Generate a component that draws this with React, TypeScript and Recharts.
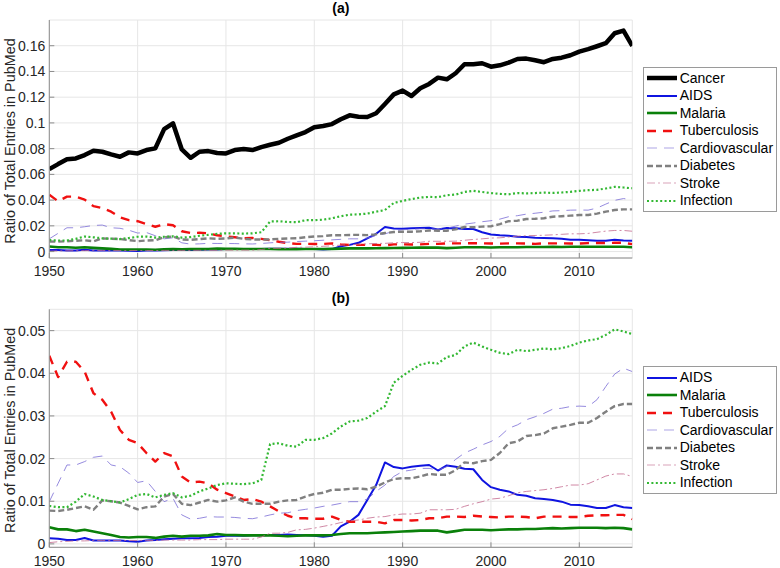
import { CartesianGrid, Legend, Line, LineChart, XAxis, YAxis } from "recharts";

const years = [
  1950, 1951, 1952, 1953, 1954, 1955, 1956, 1957, 1958, 1959,
  1960, 1961, 1962, 1963, 1964, 1965, 1966, 1967, 1968, 1969,
  1970, 1971, 1972, 1973, 1974, 1975, 1976, 1977, 1978, 1979,
  1980, 1981, 1982, 1983, 1984, 1985, 1986, 1987, 1988, 1989,
  1990, 1991, 1992, 1993, 1994, 1995, 1996, 1997, 1998, 1999,
  2000, 2001, 2002, 2003, 2004, 2005, 2006, 2007, 2008, 2009,
  2010, 2011, 2012, 2013, 2014, 2015, 2016,
];

const cancer = [
  0.0641, 0.068, 0.0717, 0.0724, 0.075, 0.0784, 0.0776, 0.0755, 0.0737, 0.0771,
  0.0763, 0.0789, 0.0802, 0.0952, 0.0997, 0.0794, 0.0729, 0.0776, 0.0781, 0.0766,
  0.0763, 0.0789, 0.0797, 0.0789, 0.0812, 0.083, 0.0846, 0.0877, 0.0903, 0.0929,
  0.0966, 0.0976, 0.0991, 0.1028, 0.1059, 0.1048, 0.1046, 0.1075, 0.1147, 0.1222,
  0.1251, 0.1209, 0.1269, 0.1303, 0.1352, 0.1339, 0.1386, 0.1456, 0.1456, 0.1464,
  0.1437, 0.1448, 0.1469, 0.1497, 0.15, 0.1487, 0.1472, 0.1497, 0.1507, 0.1526,
  0.1554, 0.1573, 0.1596, 0.162, 0.1697, 0.1718, 0.1598,
];

const aids = [
  0.0013, 0.0012, 0.0009, 0.0009, 0.0014, 0.0008, 0.0008, 0.0008, 0.0008, 0.0006,
  0.0005, 0.0008, 0.0009, 0.0011, 0.0012, 0.0013, 0.0013, 0.0014, 0.0016, 0.0017,
  0.0019, 0.0019, 0.0019, 0.002, 0.002, 0.0021, 0.0021, 0.0022, 0.0021, 0.002,
  0.0019, 0.0017, 0.0019, 0.0041, 0.0052, 0.0068, 0.0103, 0.0138, 0.0191, 0.018,
  0.0177, 0.0181, 0.0183, 0.0185, 0.0172, 0.0184, 0.0181, 0.0176, 0.0175, 0.015,
  0.0133, 0.0127, 0.0123, 0.0115, 0.0113, 0.0107, 0.0105, 0.0103, 0.0099, 0.0092,
  0.0091, 0.0088, 0.0084, 0.0084, 0.0091, 0.0086, 0.0084,
];

const malaria = [
  0.0039, 0.0034, 0.0034, 0.003, 0.0033, 0.0029, 0.0025, 0.0021, 0.0016, 0.0015,
  0.0016, 0.0016, 0.0014, 0.0017, 0.0019, 0.0017, 0.0019, 0.0019, 0.002, 0.0023,
  0.0021, 0.0021, 0.002, 0.002, 0.002, 0.002, 0.0019, 0.0018, 0.0019, 0.002,
  0.002, 0.002, 0.0021, 0.0023, 0.0025, 0.0025, 0.0025, 0.0026, 0.0027, 0.0028,
  0.0029, 0.003, 0.0031, 0.0031, 0.0031, 0.0027, 0.003, 0.0033, 0.0033, 0.0033,
  0.0032, 0.0033, 0.0034, 0.0034, 0.0035, 0.0035, 0.0036, 0.0037, 0.0036, 0.0037,
  0.0038, 0.0038, 0.0038, 0.0037, 0.0038, 0.0037, 0.0034,
];

const tuberculosis = [
  0.0441, 0.0391, 0.0427, 0.0427, 0.0404, 0.0353, 0.0338, 0.031, 0.0267, 0.0244,
  0.0236, 0.0213, 0.0193, 0.0213, 0.0205, 0.0158, 0.0144, 0.0146, 0.0142, 0.0127,
  0.0119, 0.0111, 0.0103, 0.0105, 0.0099, 0.0088, 0.0076, 0.0066, 0.006, 0.006,
  0.0059, 0.0059, 0.0064, 0.0056, 0.0052, 0.0052, 0.0052, 0.0052, 0.0048, 0.0056,
  0.0056, 0.0055, 0.0056, 0.006, 0.006, 0.0064, 0.0064, 0.0063, 0.0066, 0.0064,
  0.0063, 0.0062, 0.0064, 0.0064, 0.0063, 0.006, 0.0064, 0.0064, 0.0064, 0.0063,
  0.0063, 0.0066, 0.0067, 0.0067, 0.0068, 0.0068, 0.0058,
];

const cardiovascular = [
  0.0099, 0.0142, 0.0185, 0.0185, 0.0193, 0.0203, 0.0206, 0.0185, 0.0181, 0.0166,
  0.0144, 0.0148, 0.0123, 0.0099, 0.0107, 0.0068, 0.0058, 0.006, 0.0064, 0.0063,
  0.0063, 0.0062, 0.006, 0.0059, 0.0063, 0.0068, 0.0072, 0.0073, 0.0078, 0.0081,
  0.0084, 0.0088, 0.0091, 0.0095, 0.0099, 0.0099, 0.0105, 0.0123, 0.0138, 0.0158,
  0.017, 0.0173, 0.0177, 0.0177, 0.0173, 0.0181, 0.0198, 0.0213, 0.0222, 0.0232,
  0.024, 0.0252, 0.0271, 0.0279, 0.0291, 0.0298, 0.0306, 0.0316, 0.0318, 0.0322,
  0.0323, 0.0322, 0.0338, 0.0369, 0.0398, 0.0412, 0.0404,
];

const diabetes = [
  0.0078, 0.0077, 0.008, 0.0084, 0.0088, 0.008, 0.0102, 0.01, 0.0097, 0.0089,
  0.0081, 0.0086, 0.0088, 0.0111, 0.0117, 0.0094, 0.0091, 0.0097, 0.0103, 0.0099,
  0.0102, 0.0109, 0.0099, 0.0094, 0.0094, 0.0094, 0.0099, 0.0102, 0.0103, 0.0111,
  0.0117, 0.012, 0.0127, 0.0127, 0.0129, 0.013, 0.0128, 0.0134, 0.0144, 0.0152,
  0.0154, 0.0154, 0.0158, 0.0164, 0.0162, 0.0162, 0.0173, 0.0191, 0.0189, 0.0194,
  0.0197, 0.0213, 0.0236, 0.024, 0.0253, 0.0255, 0.0259, 0.0271, 0.0275, 0.0279,
  0.0284, 0.0284, 0.0295, 0.031, 0.0323, 0.0328, 0.0328,
];

const stroke = [
  0.0003, 0.0005, 0.0006, 0.0007, 0.0007, 0.0008, 0.0008, 0.0008, 0.0008, 0.0008,
  0.0008, 0.0008, 0.0008, 0.0009, 0.0009, 0.0009, 0.0009, 0.001, 0.001, 0.001,
  0.0011, 0.0011, 0.0011, 0.0011, 0.0016, 0.0025, 0.0025, 0.0027, 0.0033, 0.0034,
  0.0037, 0.0041, 0.0045, 0.005, 0.0054, 0.0056, 0.006, 0.0063, 0.0064, 0.0068,
  0.007, 0.007, 0.0072, 0.008, 0.008, 0.008, 0.0081, 0.0088, 0.0094, 0.0099,
  0.0105, 0.0107, 0.0113, 0.012, 0.0123, 0.0125, 0.0127, 0.013, 0.0134, 0.0138,
  0.0138, 0.0141, 0.015, 0.0159, 0.0164, 0.0164, 0.0158,
];

const infection = [
  0.0089, 0.0086, 0.0086, 0.0099, 0.0117, 0.0111, 0.0103, 0.01, 0.0097, 0.0105,
  0.0115, 0.0117, 0.0109, 0.0115, 0.0119, 0.0109, 0.0113, 0.0123, 0.013, 0.0138,
  0.0142, 0.0141, 0.014, 0.0142, 0.015, 0.0234, 0.0236, 0.023, 0.0228, 0.0244,
  0.0244, 0.0248, 0.0259, 0.0275, 0.0287, 0.0289, 0.0295, 0.031, 0.0323, 0.0378,
  0.0394, 0.0408, 0.042, 0.0425, 0.0423, 0.0438, 0.0443, 0.0463, 0.0472, 0.0463,
  0.0455, 0.0448, 0.0445, 0.0455, 0.0452, 0.0455, 0.0458, 0.0456, 0.0459, 0.0464,
  0.0472, 0.0477, 0.048, 0.049, 0.0503, 0.0498, 0.0492,
];

const xTicks = [1950, 1960, 1970, 1980, 1990, 2000, 2010];
const yTicksA = [0, 0.02, 0.04, 0.06, 0.08, 0.1, 0.12, 0.14, 0.16];
const yTicksB = [0, 0.01, 0.02, 0.03, 0.04, 0.05];

const data = years.map((year, i) => ({
  year,
  cancer: cancer[i],
  aids: aids[i],
  malaria: malaria[i],
  tuberculosis: tuberculosis[i],
  cardiovascular: cardiovascular[i],
  diabetes: diabetes[i],
  stroke: stroke[i],
  infection: infection[i],
}));

type Series = {
  key: string;
  name: string;
  color: string;
  width: number;
  dash?: string;
};

const SERIES: Series[] = [
  { key: "cancer", name: "Cancer", color: "#000000", width: 4.5 },
  { key: "aids", name: "AIDS", color: "#0f14e0", width: 2 },
  { key: "malaria", name: "Malaria", color: "#0a800a", width: 2.6 },
  { key: "tuberculosis", name: "Tuberculosis", color: "#f01010", width: 2.4, dash: "9 7" },
  { key: "cardiovascular", name: "Cardiovascular", color: "#7a6cd6", width: 0.8, dash: "10 7" },
  { key: "diabetes", name: "Diabetes", color: "#808080", width: 2.4, dash: "6 3" },
  { key: "stroke", name: "Stroke", color: "#c46a8e", width: 0.8, dash: "8 3 2 3" },
  { key: "infection", name: "Infection", color: "#33b833", width: 2.2, dash: "2 2.4" },
];

const FONT = "'Liberation Sans', Arial, Helvetica, sans-serif";
const AXIS = "#8c8c8c";
const TEXT = "#262626";
const GRID = "#e6e6e6";

const fmt = (v: number) => String(Number(v.toFixed(3)));

function YLabel({ viewBox }: any) {
  const cx = viewBox.x + 10;
  const cy = viewBox.y + viewBox.height / 2 + 2;
  return (
    <text
      x={cx}
      y={cy}
      transform={`rotate(-90 ${cx} ${cy})`}
      textAnchor="middle"
      dominantBaseline="central"
      fontSize={14.4}
      fontFamily={FONT}
      fill={TEXT}
    >
      Ratio of Total Entries in PubMed
    </text>
  );
}

function LegendBox({ series }: { series: Series[] }) {
  return (
    <div
      style={{
        border: "1px solid #9a9a9a",
        background: "#fff",
        padding: "2px 0 1px",
        fontFamily: FONT,
        fontSize: 14,
        color: "#000",
      }}
    >
      {series.map((s) => (
        <div
          key={s.key}
          style={{ display: "flex", alignItems: "center", height: 17.5 }}
        >
          <svg width={36} height={10} style={{ flex: "none" }}>
            <line
              x1={3}
              x2={33}
              y1={5}
              y2={5}
              stroke={s.color}
              strokeWidth={s.key === "cancer" ? 4.5 : Math.max(s.width, 1.2)}
              strokeDasharray={s.dash}
              opacity={s.width < 1 ? 0.6 : 1}
            />
          </svg>
          <span style={{ whiteSpace: "nowrap", lineHeight: "17px" }}>{s.name}</span>
        </div>
      ))}
    </div>
  );
}

function Panel({
  title,
  series,
  yDomain,
  yTicks,
  top,
  legendTop,
  titleY,
}: {
  title: string;
  series: Series[];
  yDomain: [number, number];
  yTicks: number[];
  top: number;
  legendTop: number;
  titleY: number;
}) {
  const plotBottom = 258 + (top - 20);
  const xHeight = 20;
  return (
    <div style={{ position: "relative", width: 780, height: 284 }}>
      <div
        style={{
          position: "absolute",
          left: 49.3,
          width: 583,
          top: titleY - 9,
          textAlign: "center",
          fontFamily: FONT,
          fontWeight: "bold",
          fontSize: 14,
          color: "#000",
          lineHeight: "18px",
        }}
      >
        {title}
      </div>
      <LineChart
        width={780}
        height={284}
        data={data}
        margin={{ top, right: 147.7, left: 0, bottom: 284 - plotBottom - xHeight }}
      >
        <CartesianGrid stroke={GRID} strokeWidth={1} />
        <XAxis
          dataKey="year"
          type="number"
          domain={[1950, 2016]}
          ticks={xTicks}
          allowDataOverflow
          height={xHeight}
          stroke={AXIS}
          tickSize={-5}
          tickMargin={13.5}
          tick={{ fill: TEXT, fontSize: 14, fontFamily: FONT }}
        />
        <XAxis
          xAxisId="top"
          orientation="top"
          type="number"
          domain={[1950, 2016]}
          ticks={xTicks}
          allowDataOverflow
          height={0}
          stroke={AXIS}
          tickSize={-5}
          tick={false}
        />
        <YAxis
          type="number"
          domain={yDomain}
          ticks={yTicks}
          allowDataOverflow
          width={49.3}
          stroke={AXIS}
          tickSize={-5}
          tickMargin={9}
          tickFormatter={fmt}
          tick={{ fill: TEXT, fontSize: 14, fontFamily: FONT }}
          label={<YLabel />}
        />
        <YAxis
          yAxisId="right"
          orientation="right"
          type="number"
          domain={yDomain}
          ticks={yTicks}
          allowDataOverflow
          width={0}
          stroke={AXIS}
          tickSize={-5}
          tick={false}
        />
        {series.map((s) => (
          <Line
            key={s.key}
            dataKey={s.key}
            name={s.name}
            type="linear"
            stroke={s.color}
            strokeWidth={s.width}
            strokeDasharray={s.dash}
            strokeLinejoin="round"
            dot={false}
            activeDot={false}
            isAnimationActive={false}
          />
        ))}
        <Legend
          layout="horizontal"
          align="center"
          verticalAlign="middle"
          wrapperStyle={{ position: "absolute", left: 642.7, top: legendTop, width: 134 }}
          content={() => <LegendBox series={series} />}
        />
      </LineChart>
    </div>
  );
}

export default function App() {
  return (
    <div
      style={{
        position: "absolute",
        left: 0,
        top: 0,
        width: 780,
        height: 568,
        background: "#fff",
        overflow: "hidden",
      }}
    >
      <Panel
        title="(a)"
        series={SERIES}
        yDomain={[-0.005, 0.18]}
        yTicks={yTicksA}
        top={20}
        legendTop={66.7}
        titleY={8.3}
      />
      <Panel
        title="(b)"
        series={SERIES.slice(1)}
        yDomain={[-0.0008, 0.055]}
        yTicks={yTicksB}
        top={25.3}
        legendTop={82}
        titleY={14.3}
      />
    </div>
  );
}
